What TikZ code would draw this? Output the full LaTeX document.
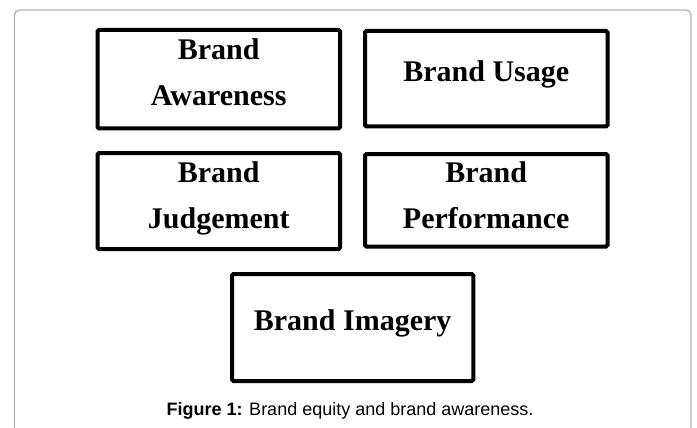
\documentclass[tikz,border=0pt]{standalone}
\usepackage{fontspec}
\setmainfont{Liberation Serif}
\newfontfamily\capfont{Liberation Sans}
\begin{document}
\begin{tikzpicture}[x=1pt,y=-1pt,
  boxline/.style={draw=black,line width=4pt,rounded corners=1.5pt},
  boxtext/.style={anchor=base,inner sep=0pt,font=\bfseries\fontsize{30}{46}\selectfont},
  frameline/.style={draw=black!30,line width=1.3pt,rounded corners=5pt}]
\useasboundingbox (0,0) rectangle (697,428);
% outer frame
\coordinate (fbl) at (14.5,432);
\coordinate (fbr) at (691,432);
\draw[frameline] (fbl) -- (14.5,10) -- (691,10) -- (fbr);
% boxes
\draw[boxline] (97.5,30) rectangle (340,128.5);
\node[boxtext] (t1) at (218.75,106) {\begin{tabular}[b]{@{}c@{}}Brand\\Awareness\end{tabular}};
\draw[boxline] (365,31) rectangle (607.5,126.5);
\node[boxtext] (t2) at (486.25,82) {Brand Usage};
\draw[boxline] (97.5,153) rectangle (340,249);
\node[boxtext] (t3) at (218.75,228) {\begin{tabular}[b]{@{}c@{}}Brand\\Judgement\end{tabular}};
\draw[boxline] (365,154) rectangle (607.5,246.5);
\node[boxtext] (t4) at (486.25,228) {\begin{tabular}[b]{@{}c@{}}Brand\\Performance\end{tabular}};
\draw[boxline] (232,274) rectangle (473.3,381);
\node[boxtext] (t5) at (352.65,330) {Brand Imagery};
% caption
\node[anchor=base,inner sep=0pt,font=\capfont\fontsize{18}{22}\selectfont] (cap) at (350,415) {\textbf{Figure 1:} Brand equity and brand awareness.};
\end{tikzpicture}
\end{document}
